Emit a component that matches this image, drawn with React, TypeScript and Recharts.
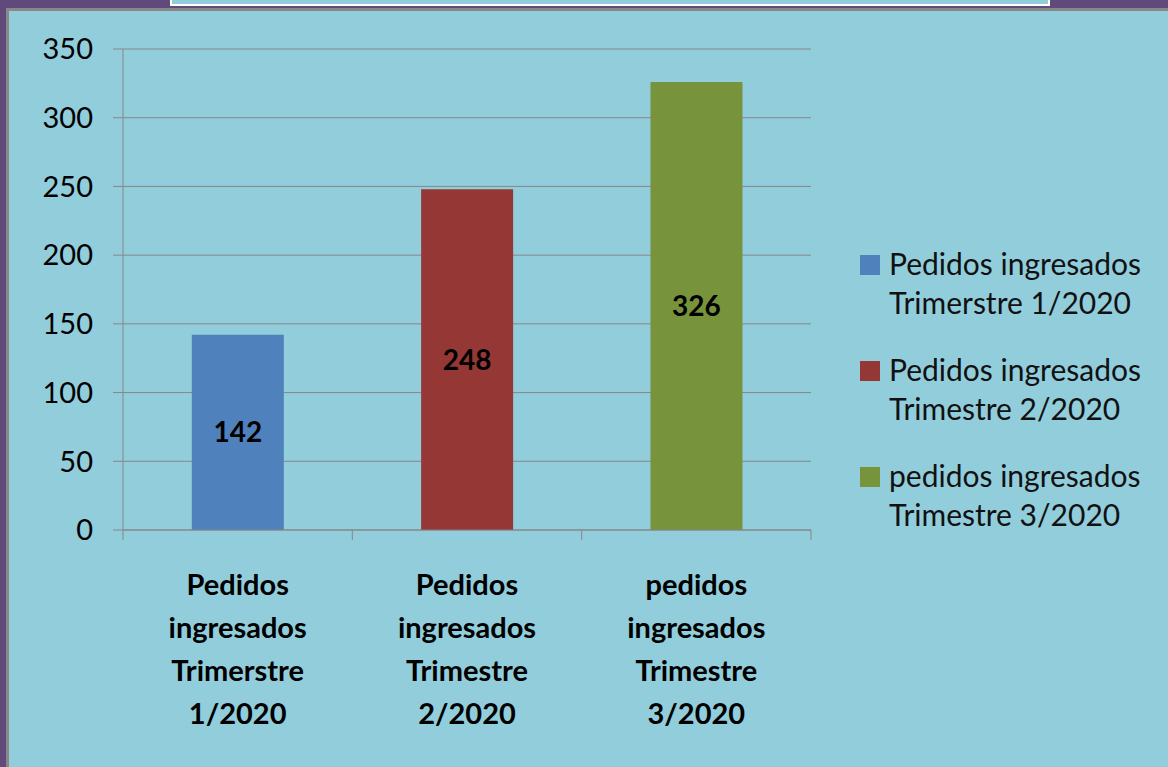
import { BarChart, Bar, XAxis, YAxis, CartesianGrid, LabelList, Cell } from 'recharts'

const categoryLines = [
  ['Pedidos', 'ingresados', 'Trimerstre', '1/2020'],
  ['Pedidos', 'ingresados', 'Trimestre', '2/2020'],
  ['pedidos', 'ingresados', 'Trimestre', '3/2020'],
]
const legendLines = [
  ['Pedidos ingresados', 'Trimerstre 1/2020'],
  ['Pedidos ingresados', 'Trimestre 2/2020'],
  ['pedidos ingresados', 'Trimestre 3/2020'],
]
const values = [142, 248, 326]
const yTicks = [0, 50, 100, 150, 200, 250, 300, 350]
const COLORS = ['#4F81BD', '#953735', '#77933C']

const FONT = 'Lato, "Open Sans", sans-serif'
const GRAY = '#878787'

const data = values.map((v, i) => ({ name: categoryLines[i].join(' '), value: v }))

function CategoryTick(props: any) {
  const { x, y, index, width, visibleTicksCount } = props
  const band = width / visibleTicksCount
  const lines = categoryLines[index] ?? []
  return (
    <g>
      <line x1={x - band / 2} y1={y} x2={x - band / 2} y2={y + 10} stroke={GRAY} />
      {index === visibleTicksCount - 1 && (
        <line x1={x + band / 2} y1={y} x2={x + band / 2} y2={y + 10} stroke={GRAY} />
      )}
      <text x={x} y={y} textAnchor="middle" fontFamily={FONT} fontWeight="bold" fontSize={29} fill="#000">
        {lines.map((l, i) => (
          <tspan key={i} x={x} dy={i === 0 ? 65 : 43}>{l}</tspan>
        ))}
      </text>
    </g>
  )
}

// legend kept outside the chart so it does not shrink the plot area
function LegendBox() {
  return (
    <div style={{ position: 'absolute', left: 860, top: 244, fontFamily: FONT, fontSize: 30, color: '#111', lineHeight: '39px' }}>
      {legendLines.map((lines, i) => (
        <div key={i} style={{ display: 'flex', alignItems: 'flex-start', marginBottom: 28 }}>
          <div style={{ width: 20, height: 20, background: COLORS[i], marginTop: 11, marginRight: 9 }} />
          <div>
            {lines.map((l, j) => <div key={j}>{l}</div>)}
          </div>
        </div>
      ))}
    </div>
  )
}

export default function App() {
  return (
    <div style={{ position: 'absolute', left: 0, top: 0, width: 1168, height: 767, background: '#604A7B', overflow: 'hidden' }}>
      <div style={{ position: 'absolute', left: 6, top: 8, right: 0, bottom: 0, background: '#888' }} />
      <div style={{ position: 'absolute', left: 9, top: 11, right: 0, bottom: 0, background: '#92CDDC' }} />
      <div style={{ position: 'absolute', left: 170, top: -12, width: 876, height: 14, border: '2px solid #fff', background: '#92CDDC' }} />
      <div style={{ position: 'absolute', left: 0, top: 0 }}>
        <BarChart
          width={1168}
          height={767}
          data={data}
          margin={{ top: 49, right: 357, left: 43, bottom: 0 }}
          barCategoryGap="30%"
        >
          <CartesianGrid vertical={false} stroke={GRAY} />
          <XAxis
            dataKey="name"
            height={237}
            axisLine={{ stroke: GRAY }}
            tickLine={false}
            tickSize={0}
            tickMargin={0}
            interval={0}
            tick={<CategoryTick />}
          />
          <YAxis
            width={80}
            domain={[0, 350]}
            ticks={yTicks}
            interval={0}
            axisLine={{ stroke: GRAY }}
            tickLine={{ stroke: GRAY }}
            tickSize={10}
            tickMargin={20}
            tick={{ fill: '#000', fontSize: 29, fontFamily: FONT }}
          />
          <Bar dataKey="value" isAnimationActive={false}>
            {values.map((_, i) => <Cell key={i} fill={COLORS[i]} />)}
            <LabelList
              dataKey="value"
              position="center"
              fill="#000"
              fontSize={28}
              fontWeight="bold"
              fontFamily={FONT}
            />
          </Bar>
        </BarChart>
      </div>
      <LegendBox />
    </div>
  )
}
